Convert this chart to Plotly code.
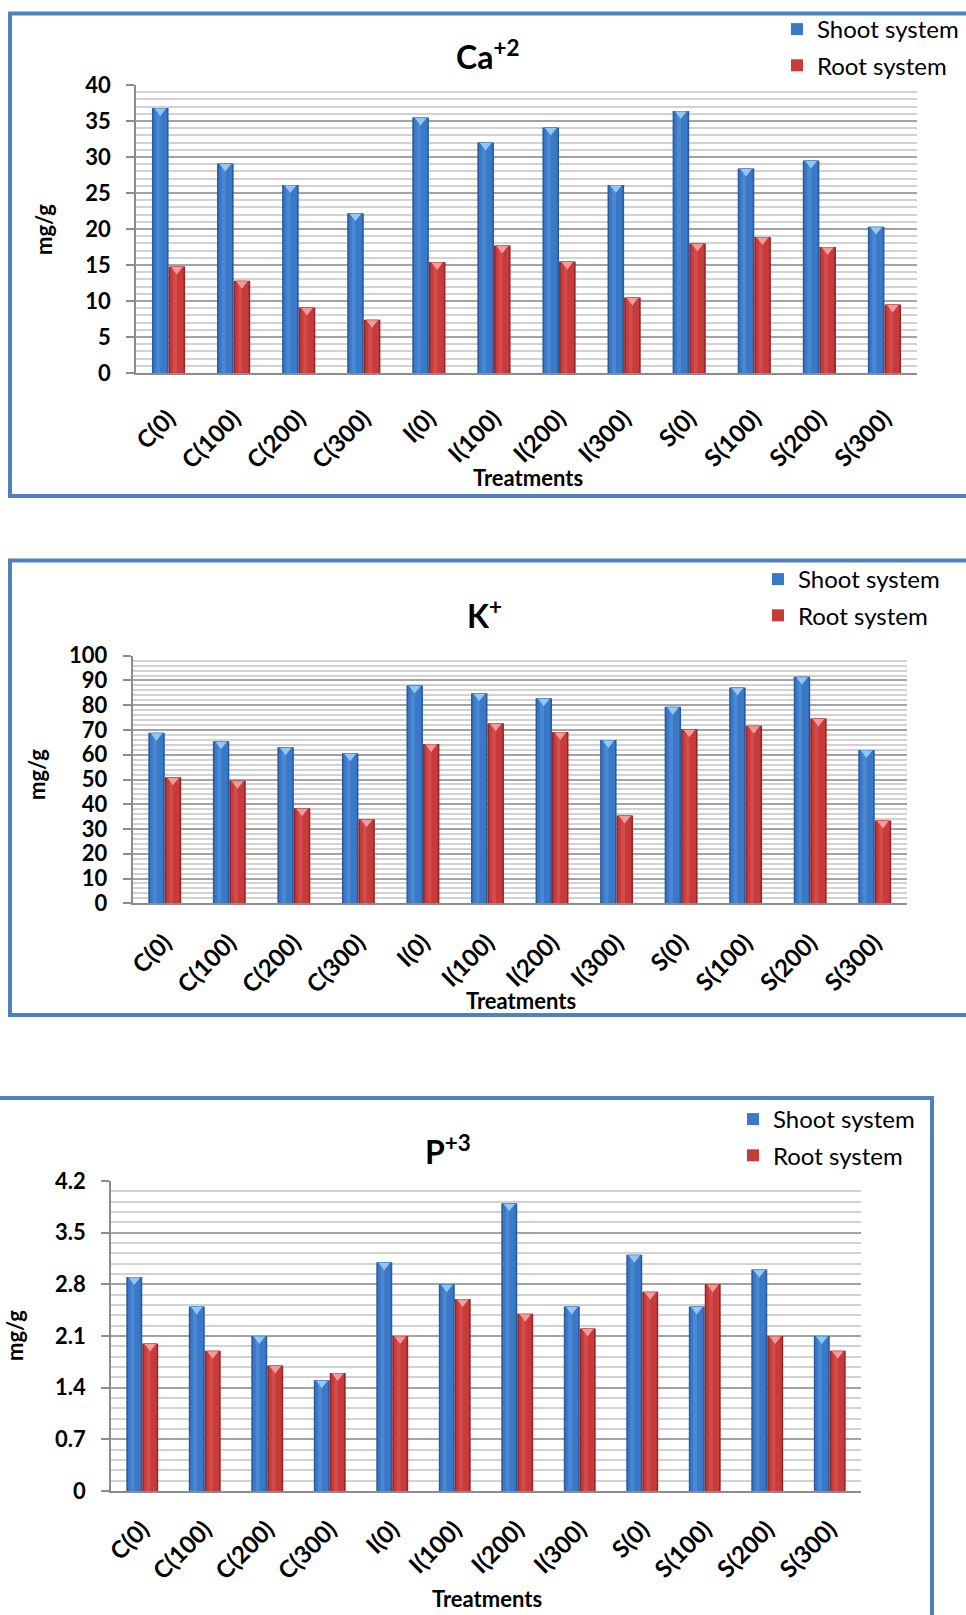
import plotly.graph_objects as go

# ---- data -------------------------------------------------------------
treatments = ["C(0)", "C(100)", "C(200)", "C(300)",
              "I(0)", "I(100)", "I(200)", "I(300)",
              "S(0)", "S(100)", "S(200)", "S(300)"]

ca_shoot = [36.8, 29.1, 26.1, 22.2, 35.5, 32.0, 34.1, 26.1, 36.4, 28.4, 29.5, 20.3]
ca_root = [14.8, 12.8, 9.1, 7.4, 15.4, 17.7, 15.5, 10.5, 18.0, 18.9, 17.5, 9.5]

k_shoot = [68.9, 65.4, 63.0, 60.6, 88.0, 84.8, 82.8, 66.0, 79.4, 87.2, 91.5, 61.9]
k_root = [50.9, 49.5, 38.4, 33.9, 64.3, 72.7, 69.2, 35.5, 70.3, 71.7, 74.6, 33.4]

p_shoot = [2.9, 2.5, 2.1, 1.5, 3.1, 2.8, 3.9, 2.5, 3.2, 2.5, 3.0, 2.1]
p_root = [2.0, 1.9, 1.7, 1.6, 2.1, 2.6, 2.4, 2.2, 2.7, 2.8, 2.1, 1.9]

ca_ticks = [0, 5, 10, 15, 20, 25, 30, 35, 40]
k_ticks = [0, 10, 20, 30, 40, 50, 60, 70, 80, 90, 100]
p_ticks = [0, 0.7, 1.4, 2.1, 2.8, 3.5, 4.2]
p_ticktext = ["0", "0.7", "1.4", "2.1", "2.8", "3.5", "4.2"]

series_names = ["Shoot system", "Root system"]

# ---- page geometry (pixels) ------------------------------------------
W, H = 966, 1615
FONT = "Lato"


def fx(px):
    return px / W


def fy(py):
    return 1 - py / H


panels = [
    dict(suffix="", legend="legend", title="Ca<sup>+2</sup>",
         shoot=ca_shoot, root=ca_root, ticks=ca_ticks, ticktext=[str(t) for t in ca_ticks],
         rng=[0, 40], minor=1,
         box=(136, 917, 85, 373), standoff_x=20,
         title_xy=(487, 55), ylab_xy=(44, 230), xlab_xy=(528, 477),
         legend_xy=(777, 7),
         frame=(10, 1010, 13.5, 496)),
    dict(suffix="2", legend="legend2", title="K<sup>+</sup>",
         shoot=k_shoot, root=k_root, ticks=k_ticks, ticktext=[str(t) for t in k_ticks],
         rng=[0, 100], minor=2,
         box=(132.5, 907, 655.7, 903.3), standoff_x=14,
         title_xy=(484, 614), ylab_xy=(36, 775), xlab_xy=(521, 1000),
         legend_xy=(758, 557),
         frame=(10, 1010, 560.5, 1015)),
    dict(suffix="3", legend="legend3", title="P<sup>+3</sup>",
         shoot=p_shoot, root=p_root, ticks=p_ticks, ticktext=p_ticktext,
         rng=[0, 4.2], minor=0.14,
         box=(111, 861, 1181, 1491), standoff_x=13,
         title_xy=(448, 1150), ylab_xy=(14, 1336), xlab_xy=(487, 1598),
         legend_xy=(733, 1097),
         frame=(-20, 932, 1098, 1700)),
]

BAR_W = 0.255
blue = dict(edge="#2a5b9b", body="#3a78c8", shine="#5a96de", tip="#93c8f6")
red = dict(edge="#952727", body="#c73b3b", shine="#dc5a5a", tip="#f39a9a")

fig = go.Figure()
x_idx = list(range(len(treatments)))

for p in panels:
    xa = "x" + p["suffix"]
    ya = "y" + p["suffix"]
    x0, x1, y0, y1 = p["box"]
    tip_shift = 3.0 * (p["rng"][1] - p["rng"][0]) / (y1 - y0)

    for k, (vals, pal, off) in enumerate([(p["shoot"], blue, -BAR_W), (p["root"], red, 0.0)]):
        grp = p["legend"] + "-" + str(k)
        # dark outer body of the column
        fig.add_trace(go.Bar(x=x_idx, y=vals, offset=off, width=BAR_W,
                             marker=dict(color=pal["edge"], line=dict(width=0)),
                             xaxis=xa, yaxis=ya, showlegend=False, hoverinfo="skip"))
        # main face
        fig.add_trace(go.Bar(x=x_idx, y=vals, offset=off + 0.025, width=BAR_W - 0.05,
                             marker=dict(color=pal["body"], line=dict(width=0)),
                             name=series_names[k], legend=p["legend"], legendgroup=grp,
                             xaxis=xa, yaxis=ya))
        # soft highlight stripe
        fig.add_trace(go.Bar(x=x_idx, y=vals, offset=off + 0.07, width=0.06,
                             marker=dict(color=pal["shine"], line=dict(width=0), opacity=0.55),
                             xaxis=xa, yaxis=ya, showlegend=False, hoverinfo="skip"))
        # bevelled cap on top of each column
        fig.add_trace(go.Scatter(x=[i + off + BAR_W / 2 for i in x_idx],
                                 y=[v - tip_shift for v in vals],
                                 mode="markers",
                                 marker=dict(symbol="triangle-down", size=10, color=pal["tip"],
                                             line=dict(width=0)),
                                 xaxis=xa, yaxis=ya, showlegend=False, hoverinfo="skip"))

layout = dict(
    width=W, height=H, autosize=False, template="none",
    margin=dict(l=0, r=0, t=0, b=0),
    paper_bgcolor="white", plot_bgcolor="white",
    barmode="overlay", font=dict(family=FONT, color="black"),
    shapes=[], annotations=[],
)

for p in panels:
    s = p["suffix"]
    x0, x1, y0, y1 = p["box"]
    layout["xaxis" + s] = dict(
        domain=[fx(x0), fx(x1)], anchor="y" + s, range=[-0.5, 11.5],
        tickmode="array", tickvals=x_idx, ticktext=treatments, tickangle=-45,
        ticks="", showgrid=False, zeroline=False, automargin=False,
        showline=True, linecolor="#8c8c8c", linewidth=1.5,
        tickfont=dict(family=FONT, size=24, weight="bold", color="black"),
        ticklabelstandoff=p["standoff_x"],
    )
    layout["yaxis" + s] = dict(
        domain=[fy(y1), fy(y0)], anchor="x" + s, range=p["rng"],
        tickmode="array", tickvals=p["ticks"], ticktext=p["ticktext"],
        ticks="outside", ticklen=8, tickwidth=1.5, tickcolor="#8c8c8c",
        showline=True, linecolor="#8c8c8c", linewidth=1.5,
        showgrid=True, gridcolor="#a3a3a3", gridwidth=1.5, zeroline=False,
        minor=dict(tick0=0, dtick=p["minor"], showgrid=True, gridcolor="#d2d2d2",
                   gridwidth=1.5, ticks=""),
        tickfont=dict(family=FONT, size=22, weight="bold", color="black"),
        ticklabelstandoff=11, automargin=False,
    )
    lx, ly = p["legend_xy"]
    layout[p["legend"]] = dict(
        x=fx(lx), y=fy(ly), xanchor="left", yanchor="top",
        font=dict(family=FONT, size=24, color="black"),
        bgcolor="rgba(0,0,0,0)", borderwidth=0, tracegroupgap=2, itemwidth=30,
    )
    fx0, fx1, fy0, fy1 = p["frame"]
    layout["shapes"].append(dict(
        type="rect", xref="paper", yref="paper",
        x0=fx(fx0), x1=fx(fx1), y0=fy(fy1), y1=fy(fy0),
        line=dict(color="#4f81bd", width=4), fillcolor="rgba(0,0,0,0)",
    ))
    tx, ty = p["title_xy"]
    layout["annotations"].append(dict(
        text=p["title"], x=fx(tx), y=fy(ty), xref="paper", yref="paper",
        xanchor="center", yanchor="middle", showarrow=False,
        font=dict(family=FONT, size=32, weight="bold", color="black"),
    ))
    yx, yy = p["ylab_xy"]
    layout["annotations"].append(dict(
        text="mg/g", x=fx(yx), y=fy(yy), xref="paper", yref="paper",
        xanchor="center", yanchor="middle", showarrow=False, textangle=-90,
        font=dict(family=FONT, size=22, weight="bold", color="black"),
    ))
    bx, by = p["xlab_xy"]
    layout["annotations"].append(dict(
        text="Treatments", x=fx(bx), y=fy(by), xref="paper", yref="paper",
        xanchor="center", yanchor="middle", showarrow=False,
        font=dict(family=FONT, size=22, weight="bold", color="black"),
    ))

fig.update_layout(**layout)
fig.write_html("out.html")
